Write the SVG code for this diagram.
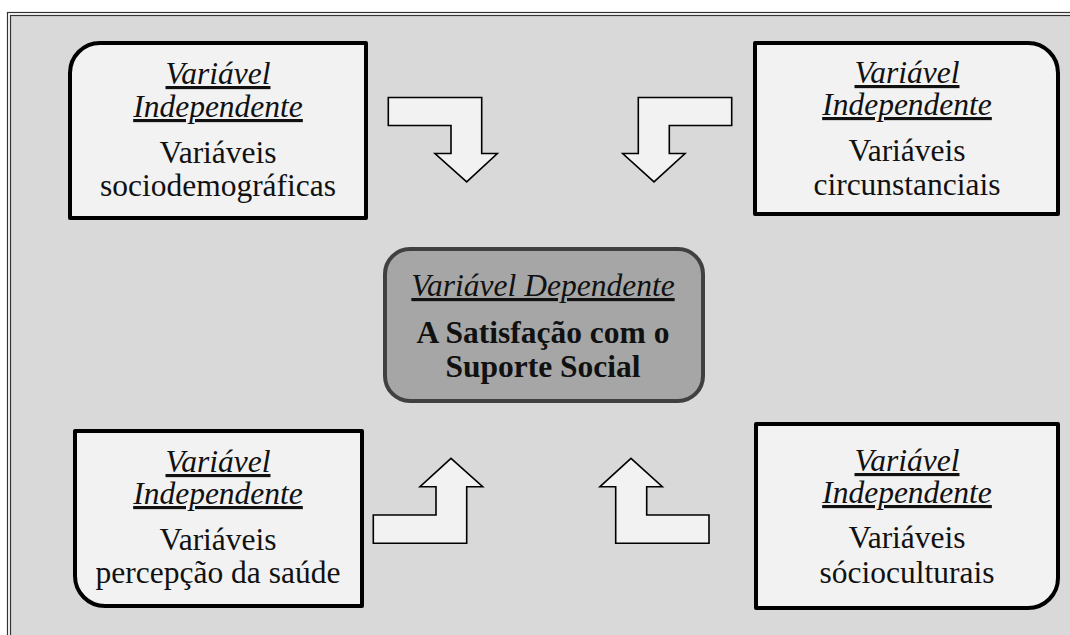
<svg xmlns="http://www.w3.org/2000/svg" width="1070" height="635" viewBox="0 0 1070 635">
<style>
.box{fill:#f2f2f2;stroke:#000;stroke-width:4;stroke-linejoin:round}
.arrow{fill:#f2f2f2;stroke:#000;stroke-width:1.6;stroke-linejoin:miter}
text{font-family:'Liberation Serif','Times New Roman',serif;font-size:31.5px;fill:#111;text-anchor:middle}
.h{font-style:italic;text-decoration:underline}
.b{font-weight:bold}
</style>
<rect x="0" y="0" width="1070" height="635" fill="#fff"/>
<rect x="7.5" y="12.5" width="1070" height="640" fill="none" stroke="#333" stroke-width="1.2"/>
<rect x="10.5" y="15.5" width="1070" height="640" fill="#d9d9d9" stroke="#333" stroke-width="1.2"/>
<g id="connectors">
<polygon class="arrow" points="388.3,97.5 481.7,97.5 481.7,153.5 497.3,153.5 466.7,181.8 435,153.5 451,153.5 451,125.5 388.3,125.5"/>
<polygon class="arrow" points="638.3,97.5 731.7,97.5 731.7,125.5 669.3,125.5 669.3,153.5 685,153.5 654,181.8 622.7,153.5 638.3,153.5"/>
<polygon class="arrow" points="373.3,515 436,515 436,486.7 420,486.7 451,458.3 482.7,486.7 466.7,486.7 466.7,543.3 373.3,543.3"/>
<polygon class="arrow" points="600,486.7 631,458.3 662.3,486.7 646.7,486.7 646.7,515 709,515 709,543.3 615.7,543.3 615.7,486.7"/>
</g>
<g id="node-sociodemograficas">
<path class="box" d="M100,43 H366 V218 H70 V73 A30,30 0 0 1 100,43 Z"/>
<text x="218" y="84" class="h">Variável</text>
<text x="218" y="117" class="h">Independente</text>
<text x="218" y="163">Variáveis</text>
<text x="218" y="196">sociodemográficas</text>
</g>
<g id="node-circunstanciais">
<path class="box" d="M755,43 H1028 A30,30 0 0 1 1058,73 V214 H755 Z"/>
<text x="907" y="83" class="h">Variável</text>
<text x="907" y="115" class="h">Independente</text>
<text x="907" y="161">Variáveis</text>
<text x="907" y="195">circunstanciais</text>
</g>
<g id="node-dependente">
<rect x="385" y="249" width="318" height="152" rx="25" ry="25" fill="#a6a6a6" stroke="#404040" stroke-width="4"/>
<text x="543" y="296" class="h">Variável Dependente</text>
<text x="543" y="343" class="b">A Satisfação com o</text>
<text x="543" y="377" class="b">Suporte Social</text>
</g>
<g id="node-saude">
<path class="box" d="M75,431 H362 V606 H105 A30,30 0 0 1 75,576 Z"/>
<text x="218" y="472" class="h">Variável</text>
<text x="218" y="504" class="h">Independente</text>
<text x="218" y="550">Variáveis</text>
<text x="218" y="583">percepção da saúde</text>
</g>
<g id="node-socioculturais">
<path class="box" d="M756,424 H1058 V578 A30,30 0 0 1 1028,608 H756 Z"/>
<text x="907" y="471" class="h">Variável</text>
<text x="907" y="503" class="h">Independente</text>
<text x="907" y="548">Variáveis</text>
<text x="907" y="583">sócioculturais</text>
</g>
</svg>
